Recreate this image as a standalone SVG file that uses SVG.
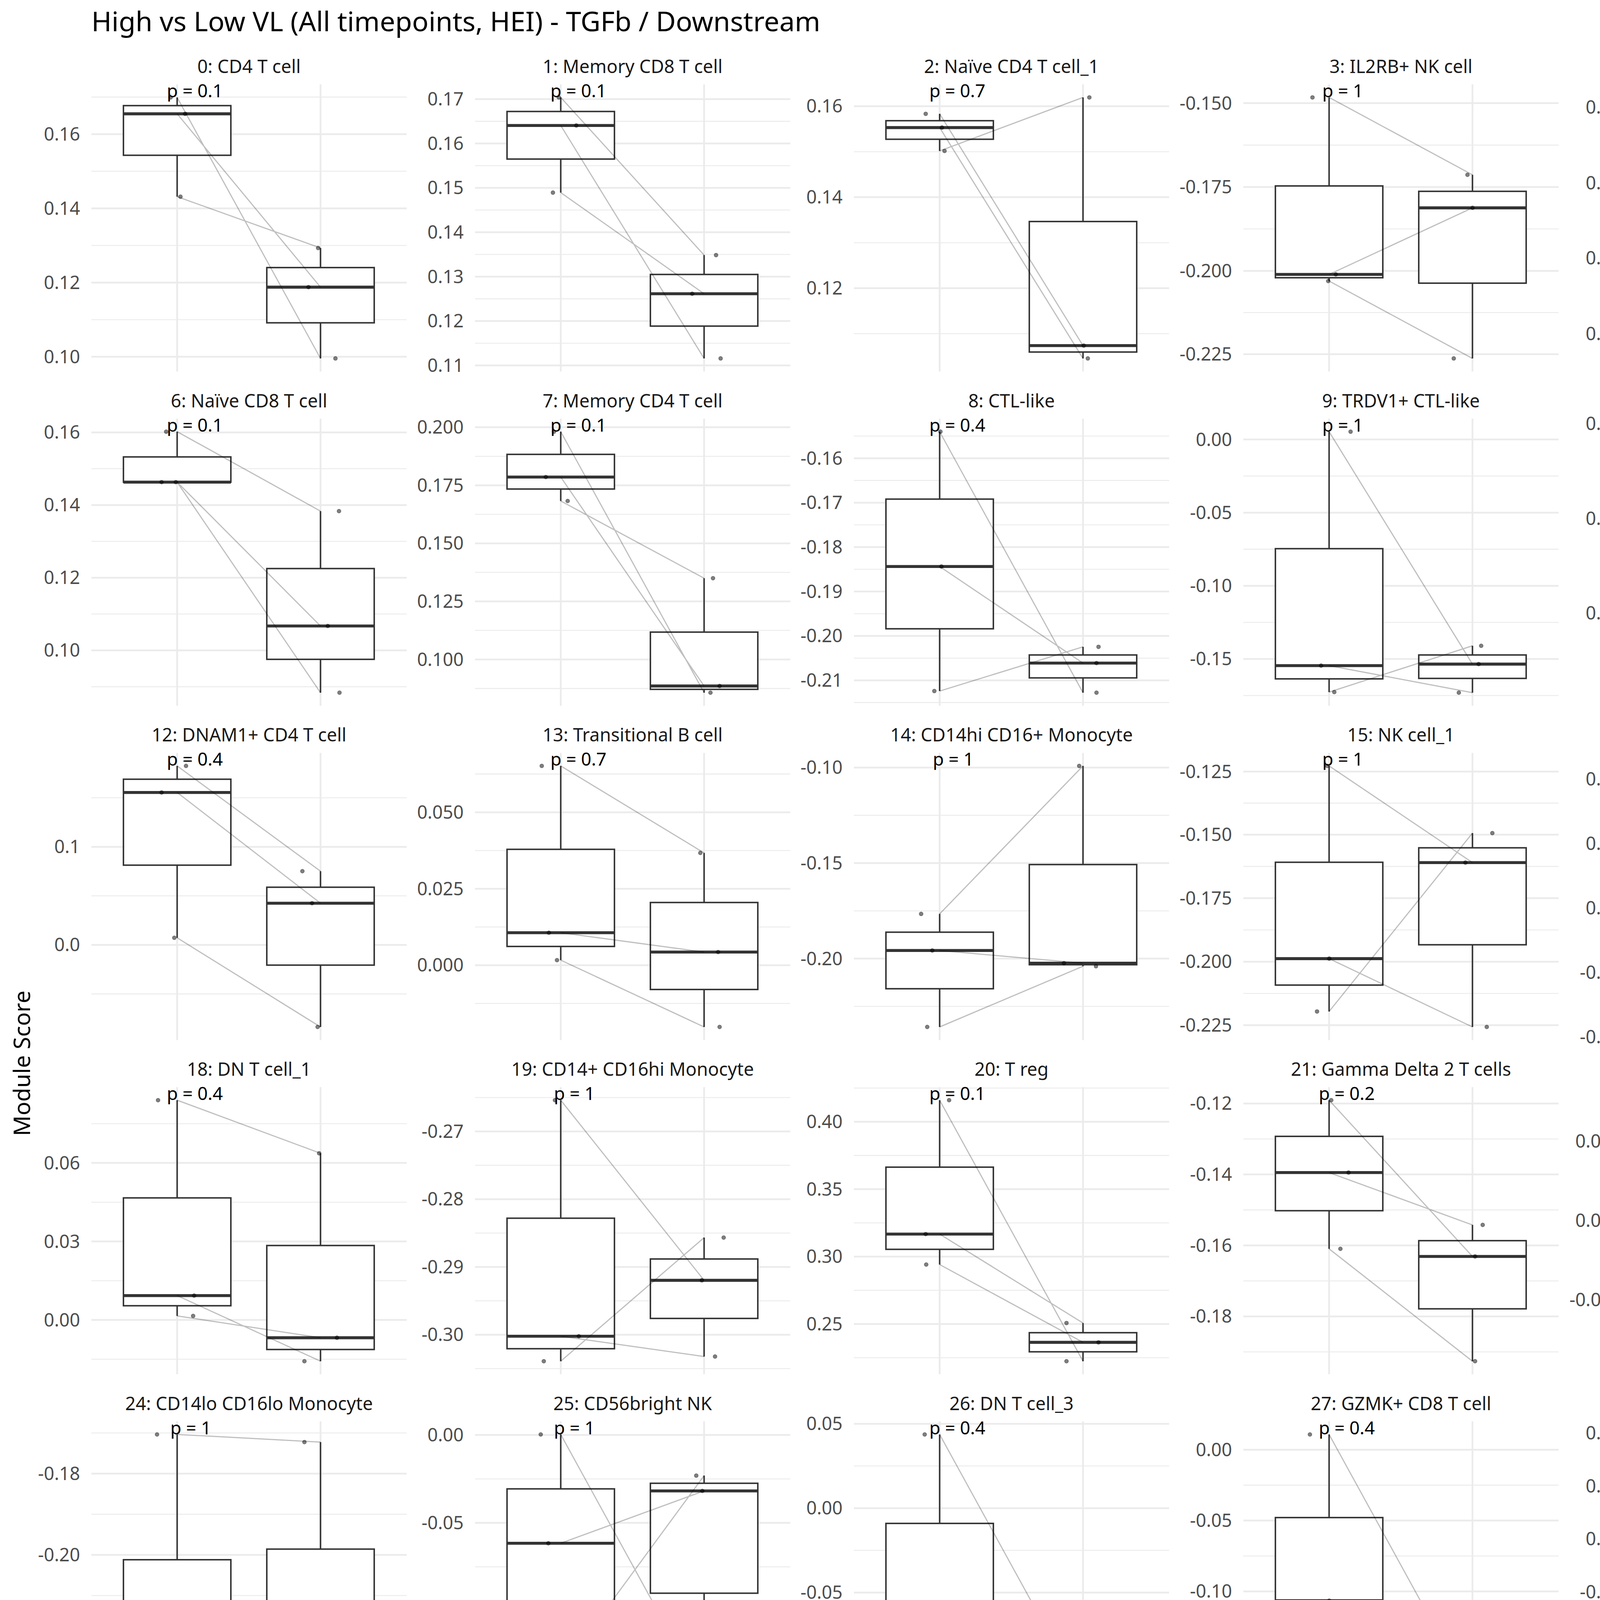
<svg xmlns="http://www.w3.org/2000/svg" width="6000" height="5400" viewBox="0 0 6000 5400">
<style>
text{font-family:"Noto Sans","Open Sans","DejaVu Sans",sans-serif}
.t{font-size:70px;fill:#000}
.st{font-size:46.7px;fill:#1A1A1A;text-anchor:middle}
.yt{font-size:46.7px;fill:#4D4D4D;text-anchor:end}
.xt{font-size:46.7px;fill:#4D4D4D;text-anchor:middle}
.pv{font-size:46px;fill:#000}
.ax{font-size:58px;fill:#000;text-anchor:middle}
.gM{stroke:#EBEBEB;stroke-width:4.5;fill:none}
.gm{stroke:#EBEBEB;stroke-width:2.3;fill:none}
.bx{fill:#fff;stroke:#333;stroke-width:3.8}
.wk{stroke:#333;stroke-width:3.8;fill:none}
.md{stroke:#333;stroke-width:7.6;fill:none}
.ln{stroke:#000;stroke-opacity:.25;stroke-width:3;fill:none}
.pts circle{fill:#000;fill-opacity:.5;stroke:#000;stroke-opacity:.35;stroke-width:1.5}
</style>
<defs>
<path id="vg" d="M219.5 0V735M586.5 0V735"/>
</defs>
<rect width="6000" height="5400" fill="#fff"/>
<text class="t" x="234" y="80">High vs Low VL (All timepoints, HEI) - TGFb / Downstream</text>
<text class="ax" transform="translate(77,2722) rotate(-90)">Module Score</text>

<g id="panel-0" transform="translate(234,216)">
<path class="gm" d="M0 32.5H807M0 222.4H807M0 412.4H807M0 602.4H807"/>
<path class="gM" d="M0 127.5H807M0 317.4H807M0 507.4H807M0 697.3H807"/>
<use href="#vg" class="gM"/>
<text class="yt" x="-29" y="144">0.16</text><text class="yt" x="-29" y="333.9">0.14</text><text class="yt" x="-29" y="523.9">0.12</text><text class="yt" x="-29" y="713.8">0.10</text>
<text class="st" x="403.5" y="-29">0: CD4 T cell</text>
<path class="wk" d="M219.5 33.4V54.4M219.5 181.5V287.5M586.5 418.9V469M586.5 610.4V701.6"/>
<rect class="bx" x="82" y="54.4" width="275" height="127.1"/><rect class="bx" x="449" y="469" width="275" height="141.4"/>
<path class="md" d="M82 75.4H357M449 519.1H724"/>
<g class="connectors"><path class="ln" d="M219.5 33.4L586.5 701.6M219.5 75.4L586.5 519.1M219.5 287.5L586.5 418.9"/></g>
<g class="pts"><circle cx="202.8" cy="33.4" r="5"/><circle cx="240" cy="75.4" r="5"/><circle cx="228" cy="287.5" r="5"/><circle cx="580.4" cy="418.9" r="5"/><circle cx="555.7" cy="519.1" r="5"/><circle cx="624.7" cy="701.6" r="5"/></g>
<text class="pv" x="193" y="33">p = 0.1</text>
</g>

<g id="panel-1" transform="translate(1216,216)">
<path class="gm" d="M0 94.5H807M0 208.1H807M0 321.7H807M0 435.4H807M0 549H807M0 662.6H807"/>
<path class="gM" d="M0 37.7H807M0 151.3H807M0 264.9H807M0 378.5H807M0 492.2H807M0 605.8H807M0 719.4H807"/>
<use href="#vg" class="gM"/>
<text class="yt" x="-29" y="54.2">0.17</text><text class="yt" x="-29" y="167.8">0.16</text><text class="yt" x="-29" y="281.4">0.15</text><text class="yt" x="-29" y="395">0.14</text><text class="yt" x="-29" y="508.7">0.13</text><text class="yt" x="-29" y="622.3">0.12</text><text class="yt" x="-29" y="735.9">0.11</text>
<text class="st" x="403.5" y="-29">1: Memory CD8 T cell</text>
<path class="wk" d="M219.5 33.4V69.4M219.5 191.2V277.1M586.5 437.1V486.6M586.5 618.8V701.6"/>
<rect class="bx" x="82" y="69.4" width="275" height="121.8"/><rect class="bx" x="449" y="486.6" width="275" height="132.2"/>
<path class="md" d="M82 105.3H357M449 536H724"/>
<g class="connectors"><path class="ln" d="M219.5 33.4L586.5 437.1M219.5 105.3L586.5 701.6M219.5 277.1L586.5 536"/></g>
<g class="pts"><circle cx="214.5" cy="33.4" r="5"/><circle cx="259.3" cy="105.3" r="5"/><circle cx="199.5" cy="277.1" r="5"/><circle cx="617.1" cy="437.1" r="5"/><circle cx="556" cy="536" r="5"/><circle cx="628.8" cy="701.6" r="5"/></g>
<text class="pv" x="193" y="33">p = 0.1</text>
</g>

<g id="panel-2" transform="translate(2186,216)">
<path class="gm" d="M0 172.4H807M0 405.3H807M0 638.2H807"/>
<path class="gM" d="M0 55.9H807M0 288.8H807M0 521.7H807"/>
<use href="#vg" class="gM"/>
<text class="yt" x="-29" y="72.4">0.16</text><text class="yt" x="-29" y="305.3">0.14</text><text class="yt" x="-29" y="538.2">0.12</text>
<text class="st" x="403.5" y="-29">2: Naïve CD4 T cell_1</text>
<path class="wk" d="M219.5 75.4V93M219.5 140.5V170.4M586.5 33.4V351.1M586.5 685.2V701.6"/>
<rect class="bx" x="82" y="93" width="275" height="47.5"/><rect class="bx" x="449" y="351.1" width="275" height="334.1"/>
<path class="md" d="M82 110.6H357M449 668.7H724"/>
<g class="connectors"><path class="ln" d="M219.5 75.4L586.5 668.7M219.5 110.6L586.5 701.6M219.5 170.4L586.5 33.4"/></g>
<g class="pts"><circle cx="183.8" cy="75.4" r="5"/><circle cx="225.4" cy="110.6" r="5"/><circle cx="232" cy="170.4" r="5"/><circle cx="602.7" cy="33.4" r="5"/><circle cx="588.4" cy="668.7" r="5"/><circle cx="598.8" cy="701.6" r="5"/></g>
<text class="pv" x="193" y="33">p = 0.7</text>
</g>

<g id="panel-3" transform="translate(3183,216)">
<path class="gm" d="M0 155.5H807M0 370.1H807M0 584.1H807"/>
<path class="gM" d="M0 48.1H807M0 262.8H807M0 477.4H807M0 690.8H807"/>
<use href="#vg" class="gM"/>
<text class="yt" x="-29" y="64.6">-0.150</text><text class="yt" x="-29" y="279.3">-0.175</text><text class="yt" x="-29" y="493.9">-0.200</text><text class="yt" x="-29" y="707.3">-0.225</text>
<text class="st" x="403.5" y="-29">3: IL2RB+ NK cell</text>
<path class="wk" d="M219.5 33.4V260M219.5 495V503.5M586.5 231.5V273.8M586.5 508.9V701.6"/>
<rect class="bx" x="82" y="260" width="275" height="235"/><rect class="bx" x="449" y="273.8" width="275" height="235.1"/>
<path class="md" d="M82 486.5H357M449 316.1H724"/>
<g class="connectors"><path class="ln" d="M219.5 33.4L586.5 231.5M219.5 486.5L586.5 316.1M219.5 503.5L586.5 701.6"/></g>
<g class="pts"><circle cx="176.9" cy="33.4" r="5"/><circle cx="236.7" cy="486.5" r="5"/><circle cx="217.2" cy="503.5" r="5"/><circle cx="573.7" cy="231.5" r="5"/><circle cx="586.7" cy="316.1" r="5"/><circle cx="538.6" cy="701.6" r="5"/></g>
<text class="pv" x="202" y="33">p = 1</text>
</g>

<g id="panel-4" transform="translate(4181,216)">
<path class="gm" d="M0 155.5H807M0 348.7H807M0 541.9H807M0 734H807"/>
<path class="gM" d="M0 58.5H807M0 252.4H807M0 444.9H807M0 638.8H807"/>
<use href="#vg" class="gM"/>
<text class="yt" x="-29" y="75">0.15</text><text class="yt" x="-29" y="268.9">0.10</text><text class="yt" x="-29" y="461.4">0.05</text><text class="yt" x="-29" y="655.3">0.00</text>
<text class="st" x="403.5" y="-29">4: IgD+IgM+ B cell</text>
<path class="wk" d="M219.5 33.4V167.6M219.5 415.7V529.5M586.5 225V396.8M586.5 635V701.6"/>
<rect class="bx" x="82" y="167.6" width="275" height="248.1"/><rect class="bx" x="449" y="396.8" width="275" height="238.2"/>
<path class="md" d="M82 301.8H357M449 568.5H724"/>
<g class="connectors"><path class="ln" d="M219.5 33.4L586.5 225M219.5 301.8L586.5 568.5M219.5 529.5L586.5 701.6"/></g>
<g class="pts"><circle cx="230.4" cy="33.4" r="5"/><circle cx="173.2" cy="301.8" r="5"/><circle cx="257.8" cy="529.5" r="5"/><circle cx="613" cy="225" r="5"/><circle cx="629.9" cy="568.5" r="5"/><circle cx="615.5" cy="701.6" r="5"/></g>
<text class="pv" x="193" y="33">p = 0.4</text>
</g>

<g id="panel-5" transform="translate(5163,216)">
<path class="gm" d="M0 63.7H807M0 232.9H807M0 402H807M0 571.1H807"/>
<path class="gM" d="M0 148.3H807M0 317.4H807M0 486.5H807M0 655.7H807"/>
<use href="#vg" class="gM"/>
<text class="yt" x="-29" y="164.8">0.175</text><text class="yt" x="-29" y="333.9">0.150</text><text class="yt" x="-29" y="503">0.125</text><text class="yt" x="-29" y="672.2">0.100</text>
<text class="st" x="403.5" y="-29">5: Naïve CD4 T cell_2</text>
<path class="wk" d="M219.5 268.6V326.5M586.5 33.4V204M586.5 538.2V701.6"/>
<rect class="bx" x="82" y="210.7" width="275" height="57.9"/><rect class="bx" x="449" y="204" width="275" height="334.2"/>
<path class="md" d="M82 210.7H357M449 374.7H724"/>
<g class="connectors"><path class="ln" d="M219.5 210.7L586.5 33.4M219.5 210.7L586.5 701.6M219.5 326.5L586.5 374.7"/></g>
<g class="pts"><circle cx="211.2" cy="210.7" r="5"/><circle cx="259.3" cy="210.7" r="5"/><circle cx="220.3" cy="326.5" r="5"/><circle cx="537.7" cy="33.4" r="5"/><circle cx="582" cy="374.7" r="5"/><circle cx="611.9" cy="701.6" r="5"/></g>
<text class="pv" x="193" y="33">p = 0.7</text>
</g>

<g id="panel-6" transform="translate(234,1071.7)">
<path class="gm" d="M0 128.2H807M0 314.2H807M0 500.2H807M0 686.3H807"/>
<path class="gM" d="M0 35.2H807M0 221.2H807M0 407.2H807M0 593.3H807"/>
<use href="#vg" class="gM"/>
<text class="yt" x="-29" y="51.7">0.16</text><text class="yt" x="-29" y="237.7">0.14</text><text class="yt" x="-29" y="423.7">0.12</text><text class="yt" x="-29" y="609.8">0.10</text>
<text class="st" x="403.5" y="-29">6: Naïve CD8 T cell</text>
<path class="wk" d="M219.5 33.4V98M586.5 236.8V383.8M586.5 616.2V701.6"/>
<rect class="bx" x="82" y="98" width="275" height="64.6"/><rect class="bx" x="449" y="383.8" width="275" height="232.4"/>
<path class="md" d="M82 162.6H357M449 530.8H724"/>
<g class="connectors"><path class="ln" d="M219.5 33.4L586.5 236.8M219.5 162.6L586.5 530.8M219.5 162.6L586.5 701.6"/></g>
<g class="pts"><circle cx="191.4" cy="33.4" r="5"/><circle cx="179.7" cy="162.6" r="5"/><circle cx="216.1" cy="162.6" r="5"/><circle cx="633.8" cy="236.8" r="5"/><circle cx="605.1" cy="530.8" r="5"/><circle cx="635.1" cy="701.6" r="5"/></g>
<text class="pv" x="193" y="33">p = 0.1</text>
</g>

<g id="panel-7" transform="translate(1216,1071.7)">
<path class="gm" d="M0 96.4H807M0 245H807M0 393.6H807M0 542.2H807M0 690.8H807"/>
<path class="gM" d="M0 22.1H807M0 170.7H807M0 319.3H807M0 467.9H807M0 616.5H807"/>
<use href="#vg" class="gM"/>
<text class="yt" x="-29" y="38.6">0.200</text><text class="yt" x="-29" y="187.2">0.175</text><text class="yt" x="-29" y="335.8">0.150</text><text class="yt" x="-29" y="484.4">0.125</text><text class="yt" x="-29" y="633">0.100</text>
<text class="st" x="403.5" y="-29">7: Memory CD4 T cell</text>
<path class="wk" d="M219.5 33.4V91.5M219.5 180.2V210.8M586.5 408.5V546.5M586.5 693V701.6"/>
<rect class="bx" x="82" y="91.5" width="275" height="88.7"/><rect class="bx" x="449" y="546.5" width="275" height="146.5"/>
<path class="md" d="M82 149.6H357M449 684.4H724"/>
<g class="connectors"><path class="ln" d="M219.5 33.4L586.5 701.6M219.5 149.6L586.5 684.4M219.5 210.8L586.5 408.5"/></g>
<g class="pts"><circle cx="202.1" cy="33.4" r="5"/><circle cx="181.3" cy="149.6" r="5"/><circle cx="237.2" cy="210.8" r="5"/><circle cx="609.3" cy="408.5" r="5"/><circle cx="626.2" cy="684.4" r="5"/><circle cx="602.8" cy="701.6" r="5"/></g>
<text class="pv" x="193" y="33">p = 0.1</text>
</g>

<g id="panel-8" transform="translate(2186,1071.7)">
<path class="gm" d="M0 44.6H807M0 158.3H807M0 272H807M0 385.7H807M0 499.4H807M0 613.1H807M0 726.8H807"/>
<path class="gM" d="M0 101.5H807M0 215.2H807M0 328.9H807M0 442.6H807M0 556.3H807M0 670H807"/>
<use href="#vg" class="gM"/>
<text class="yt" x="-29" y="118">-0.16</text><text class="yt" x="-29" y="231.7">-0.17</text><text class="yt" x="-29" y="345.4">-0.18</text><text class="yt" x="-29" y="459.1">-0.19</text><text class="yt" x="-29" y="572.8">-0.20</text><text class="yt" x="-29" y="686.5">-0.21</text>
<text class="st" x="403.5" y="-29">8: CTL-like</text>
<path class="wk" d="M219.5 33.4V206M219.5 538V697.4M586.5 584.2V605M586.5 663.7V701.6"/>
<rect class="bx" x="82" y="206" width="275" height="332"/><rect class="bx" x="449" y="605" width="275" height="58.7"/>
<path class="md" d="M82 378.6H357M449 625.8H724"/>
<g class="connectors"><path class="ln" d="M219.5 33.4L586.5 701.6M219.5 378.6L586.5 625.8M219.5 697.4L586.5 584.2"/></g>
<g class="pts"><circle cx="221.5" cy="33.4" r="5"/><circle cx="224" cy="378.6" r="5"/><circle cx="205.9" cy="697.4" r="5"/><circle cx="626.2" cy="584.2" r="5"/><circle cx="621" cy="625.8" r="5"/><circle cx="621" cy="701.6" r="5"/></g>
<text class="pv" x="193" y="33">p = 0.4</text>
</g>

<g id="panel-9" transform="translate(3183,1071.7)">
<path class="gm" d="M0 147H807M0 334.3H807M0 521.7H807M0 709H807"/>
<path class="gM" d="M0 53.4H807M0 240.7H807M0 428H807M0 615.3H807"/>
<use href="#vg" class="gM"/>
<text class="yt" x="-29" y="69.9">0.00</text><text class="yt" x="-29" y="257.2">-0.05</text><text class="yt" x="-29" y="444.5">-0.10</text><text class="yt" x="-29" y="631.8">-0.15</text>
<text class="st" x="403.5" y="-29">9: TRDV1+ CTL-like</text>
<path class="wk" d="M219.5 33.4V332.9M219.5 666.2V700M586.5 581.6V605M586.5 665V701.6"/>
<rect class="bx" x="82" y="332.9" width="275" height="333.3"/><rect class="bx" x="449" y="605" width="275" height="60"/>
<path class="md" d="M82 632.3H357M449 628.4H724"/>
<g class="connectors"><path class="ln" d="M219.5 33.4L586.5 628.4M219.5 632.3L586.5 701.6M219.5 700L586.5 581.6"/></g>
<g class="pts"><circle cx="274.5" cy="33.4" r="5"/><circle cx="199" cy="632.3" r="5"/><circle cx="232.8" cy="700" r="5"/><circle cx="608.8" cy="581.6" r="5"/><circle cx="602.3" cy="628.4" r="5"/><circle cx="551.6" cy="701.6" r="5"/></g>
<text class="pv" x="202" y="33">p = 1</text>
</g>

<g id="panel-10" transform="translate(4181,1071.7)">
<path class="gm" d="M0 134.3H807M0 376.9H807M0 619.5H807"/>
<path class="gM" d="M0 13H807M0 255.6H807M0 498.2H807"/>
<use href="#vg" class="gM"/>
<text class="yt" x="-29" y="29.5">0.10</text><text class="yt" x="-29" y="272.1">0.05</text><text class="yt" x="-29" y="514.7">0.00</text>
<text class="st" x="403.5" y="-29">10: Memory CD4 T helper</text>
<path class="wk" d="M219.5 33.4V100.6M219.5 434.8V701.6"/>
<rect class="bx" x="82" y="100.6" width="275" height="334.2"/><rect class="bx" x="449" y="670.5" width="275" height="1"/>
<path class="md" d="M82 167.9H357M449 671H724"/>
<g class="connectors"><path class="ln" d="M219.5 33.4L586.5 671M219.5 167.9L586.5 670M219.5 701.6L586.5 672"/></g>
<g class="pts"><circle cx="181" cy="33.4" r="5"/><circle cx="269.5" cy="167.9" r="5"/><circle cx="213.5" cy="701.6" r="5"/><circle cx="545.3" cy="672" r="5"/><circle cx="575.2" cy="671" r="5"/><circle cx="629.9" cy="670" r="5"/></g>
<text class="pv" x="193" y="33">p = 0.7</text>
</g>

<g id="panel-11" transform="translate(5163,1071.7)">
<path class="gm" d="M0 100.6H807M0 288.8H807M0 477H807M0 665.2H807"/>
<path class="gM" d="M0 6.5H807M0 194.7H807M0 382.9H807M0 571.1H807"/>
<use href="#vg" class="gM"/>
<text class="yt" x="-29" y="23">0.18</text><text class="yt" x="-29" y="211.2">0.15</text><text class="yt" x="-29" y="399.4">0.12</text><text class="yt" x="-29" y="587.6">0.09</text>
<text class="st" x="403.5" y="-29">11: Naïve B cell</text>
<path class="wk" d="M219.5 33.4V92.2M219.5 268.7V386.4M586.5 329.2V485.3M586.5 671.5V701.6"/>
<rect class="bx" x="82" y="92.2" width="275" height="176.5"/><rect class="bx" x="449" y="485.3" width="275" height="186.2"/>
<path class="md" d="M82 150.9H357M449 641.4H724"/>
<g class="connectors"><path class="ln" d="M219.5 33.4L586.5 329.2M219.5 150.9L586.5 701.6M219.5 386.4L586.5 641.4"/></g>
<g class="pts"><circle cx="242.4" cy="33.4" r="5"/><circle cx="259.3" cy="150.9" r="5"/><circle cx="254.1" cy="386.4" r="5"/><circle cx="556" cy="329.2" r="5"/><circle cx="557.3" cy="641.4" r="5"/><circle cx="626.2" cy="701.6" r="5"/></g>
<text class="pv" x="193" y="33">p = 0.2</text>
</g>

<g id="panel-12" transform="translate(234,1927.4)">
<path class="gm" d="M0 114.9H807M0 366H807M0 617.1H807"/>
<path class="gM" d="M0 240.5H807M0 491.6H807"/>
<use href="#vg" class="gM"/>
<text class="yt" x="-29" y="257">0.1</text><text class="yt" x="-29" y="508.1">0.0</text>
<text class="st" x="403.5" y="-29">12: DNAM1+ CD4 T cell</text>
<path class="wk" d="M219.5 33.4V67.4M219.5 287.4V473.4M586.5 302.9V343.9M586.5 543.3V701.6"/>
<rect class="bx" x="82" y="67.4" width="275" height="220"/><rect class="bx" x="449" y="343.9" width="275" height="199.4"/>
<path class="md" d="M82 101.3H357M449 384.9H724"/>
<g class="connectors"><path class="ln" d="M219.5 33.4L586.5 302.9M219.5 101.3L586.5 384.9M219.5 473.4L586.5 701.6"/></g>
<g class="pts"><circle cx="242.2" cy="33.4" r="5"/><circle cx="179.7" cy="101.3" r="5"/><circle cx="212.2" cy="473.4" r="5"/><circle cx="540.1" cy="302.9" r="5"/><circle cx="564.8" cy="384.9" r="5"/><circle cx="579.1" cy="701.6" r="5"/></g>
<text class="pv" x="193" y="33">p = 0.4</text>
</g>

<g id="panel-13" transform="translate(1216,1927.4)">
<path class="gm" d="M0 54.1H807M0 249.9H807M0 445.7H807M0 641.5H807"/>
<path class="gM" d="M0 152H807M0 347.8H807M0 543.6H807"/>
<use href="#vg" class="gM"/>
<text class="yt" x="-29" y="168.5">0.050</text><text class="yt" x="-29" y="364.3">0.025</text><text class="yt" x="-29" y="560.1">0.000</text>
<text class="st" x="403.5" y="-29">13: Transitional B cell</text>
<path class="wk" d="M219.5 33.4V246.9M219.5 495.5V530.6M586.5 256.1V383M586.5 605.7V701.6"/>
<rect class="bx" x="82" y="246.9" width="275" height="248.6"/><rect class="bx" x="449" y="383" width="275" height="222.7"/>
<path class="md" d="M82 460.3H357M449 509.8H724"/>
<g class="connectors"><path class="ln" d="M219.5 33.4L586.5 256.1M219.5 460.3L586.5 509.8M219.5 530.6L586.5 701.6"/></g>
<g class="pts"><circle cx="170.9" cy="33.4" r="5"/><circle cx="189.1" cy="460.3" r="5"/><circle cx="209.9" cy="530.6" r="5"/><circle cx="576.8" cy="256.1" r="5"/><circle cx="622.3" cy="509.8" r="5"/><circle cx="626.2" cy="701.6" r="5"/></g>
<text class="pv" x="193" y="33">p = 0.7</text>
</g>

<g id="panel-14" transform="translate(2186,1927.4)">
<path class="gm" d="M0 159.8H807M0 404.4H807M0 649H807"/>
<path class="gM" d="M0 37.5H807M0 282.1H807M0 526.7H807"/>
<use href="#vg" class="gM"/>
<text class="yt" x="-29" y="54">-0.10</text><text class="yt" x="-29" y="298.6">-0.15</text><text class="yt" x="-29" y="543.2">-0.20</text>
<text class="st" x="403.5" y="-29">14: CD14hi CD16+ Monocyte</text>
<path class="wk" d="M219.5 412.2V459M219.5 603.8V701.6M586.5 33.4V285.9M586.5 542.3V546.2"/>
<rect class="bx" x="82" y="459" width="275" height="144.8"/><rect class="bx" x="449" y="285.9" width="275" height="256.4"/>
<path class="md" d="M82 505.9H357M449 538.4H724"/>
<g class="connectors"><path class="ln" d="M219.5 412.2L586.5 33.4M219.5 505.9L586.5 538.4M219.5 701.6L586.5 546.2"/></g>
<g class="pts"><circle cx="172.1" cy="412.2" r="5"/><circle cx="200.7" cy="505.9" r="5"/><circle cx="187.7" cy="701.6" r="5"/><circle cx="576.7" cy="33.4" r="5"/><circle cx="537.7" cy="538.4" r="5"/><circle cx="619.7" cy="546.2" r="5"/></g>
<text class="pv" x="202" y="33">p = 1</text>
</g>

<g id="panel-15" transform="translate(3183,1927.4)">
<path class="gm" d="M0 128.6H807M0 290.6H807M0 453.2H807M0 615.8H807"/>
<path class="gM" d="M0 47.9H807M0 209.3H807M0 371.9H807M0 534.5H807M0 697.1H807"/>
<use href="#vg" class="gM"/>
<text class="yt" x="-29" y="64.4">-0.125</text><text class="yt" x="-29" y="225.8">-0.150</text><text class="yt" x="-29" y="388.4">-0.175</text><text class="yt" x="-29" y="551">-0.200</text><text class="yt" x="-29" y="713.6">-0.225</text>
<text class="st" x="403.5" y="-29">15: NK cell_1</text>
<path class="wk" d="M219.5 33.4V280M219.5 594.4V662M586.5 205.3V243M586.5 491.2V701.6"/>
<rect class="bx" x="82" y="280" width="275" height="314.4"/><rect class="bx" x="449" y="243" width="275" height="248.2"/>
<path class="md" d="M82 526.7H357M449 280.8H724"/>
<g class="connectors"><path class="ln" d="M219.5 33.4L586.5 280.8M219.5 526.7L586.5 701.6M219.5 662L586.5 205.3"/></g>
<g class="pts"><circle cx="214.6" cy="33.4" r="5"/><circle cx="219.8" cy="526.7" r="5"/><circle cx="188.6" cy="662" r="5"/><circle cx="637.4" cy="205.3" r="5"/><circle cx="568.5" cy="280.8" r="5"/><circle cx="623.1" cy="701.6" r="5"/></g>
<text class="pv" x="202" y="33">p = 1</text>
</g>

<g id="panel-16" transform="translate(4181,1927.4)">
<path class="gm" d="M0 149.9H807M0 314.8H807M0 479.7H807M0 644.6H807"/>
<path class="gM" d="M0 67.4H807M0 232.3H807M0 397.2H807M0 562.1H807M0 727H807"/>
<use href="#vg" class="gM"/>
<text class="yt" x="-29" y="83.9">0.06</text><text class="yt" x="-29" y="248.8">0.03</text><text class="yt" x="-29" y="413.7">0.00</text><text class="yt" x="-29" y="578.6">-0.03</text><text class="yt" x="-29" y="743.5">-0.06</text>
<text class="st" x="403.5" y="-29">16: Gamma Delta 1 T cells</text>
<path class="wk" d="M219.5 33.4V101.2M219.5 290.6V412.2M586.5 53.1V313.3M586.5 637.6V701.6"/>
<rect class="bx" x="82" y="101.2" width="275" height="189.4"/><rect class="bx" x="449" y="313.3" width="275" height="324.3"/>
<path class="md" d="M82 168.9H357M449 573.5H724"/>
<g class="connectors"><path class="ln" d="M219.5 33.4L586.5 53.1M219.5 168.9L586.5 701.6M219.5 412.2L586.5 573.5"/></g>
<g class="pts"><circle cx="204.4" cy="33.4" r="5"/><circle cx="240.9" cy="168.9" r="5"/><circle cx="213.5" cy="412.2" r="5"/><circle cx="563.5" cy="53.1" r="5"/><circle cx="631.2" cy="573.5" r="5"/><circle cx="641.6" cy="701.6" r="5"/></g>
<text class="pv" x="193" y="33">p = 0.4</text>
</g>

<g id="panel-17" transform="translate(5163,1927.4)">
<path class="gm" d="M0 83H807M0 299H807M0 515H807M0 731H807"/>
<path class="gM" d="M0 191H807M0 407H807M0 623H807"/>
<use href="#vg" class="gM"/>
<text class="yt" x="-29" y="207.5">-0.18</text><text class="yt" x="-29" y="423.5">-0.20</text><text class="yt" x="-29" y="639.5">-0.22</text>
<text class="st" x="403.5" y="-29">17: NK cell_2</text>
<path class="wk" d="M219.5 538.4V553.4M219.5 577.4V586.5M586.5 33.4V135M586.5 469.1V701.6"/>
<rect class="bx" x="82" y="553.4" width="275" height="24"/><rect class="bx" x="449" y="135" width="275" height="334.1"/>
<path class="md" d="M82 568.3H357M449 236.6H724"/>
<g class="connectors"><path class="ln" d="M219.5 538.4L586.5 33.4M219.5 568.3L586.5 236.6M219.5 586.5L586.5 701.6"/></g>
<g class="pts"><circle cx="195.6" cy="538.4" r="5"/><circle cx="177.4" cy="568.3" r="5"/><circle cx="224.2" cy="586.5" r="5"/><circle cx="610.6" cy="33.4" r="5"/><circle cx="576.8" cy="236.6" r="5"/><circle cx="610.6" cy="701.6" r="5"/></g>
<text class="pv" x="193" y="33">p = 0.7</text>
</g>

<g id="panel-18" transform="translate(234,2783.1)">
<path class="gm" d="M0 93.5H807M0 294.5H807M0 495.5H807M0 696.5H807"/>
<path class="gM" d="M0 194H807M0 395H807M0 596H807"/>
<use href="#vg" class="gM"/>
<text class="yt" x="-29" y="210.5">0.06</text><text class="yt" x="-29" y="411.5">0.03</text><text class="yt" x="-29" y="612.5">0.00</text>
<text class="st" x="403.5" y="-29">18: DN T cell_1</text>
<path class="wk" d="M219.5 33.4V283.5M219.5 559.6V585.6M586.5 169.3V405.4M586.5 671.6V701.6"/>
<rect class="bx" x="82" y="283.5" width="275" height="276.1"/><rect class="bx" x="449" y="405.4" width="275" height="266.2"/>
<path class="md" d="M82 533.6H357M449 641.5H724"/>
<g class="connectors"><path class="ln" d="M219.5 33.4L586.5 169.3M219.5 533.6L586.5 701.6M219.5 585.6L586.5 641.5"/></g>
<g class="pts"><circle cx="170.6" cy="33.4" r="5"/><circle cx="263" cy="533.6" r="5"/><circle cx="260.4" cy="585.6" r="5"/><circle cx="583" cy="169.3" r="5"/><circle cx="628.6" cy="641.5" r="5"/><circle cx="545.3" cy="701.6" r="5"/></g>
<text class="pv" x="193" y="33">p = 0.4</text>
</g>

<g id="panel-19" transform="translate(1216,2783.1)">
<path class="gm" d="M0 26.6H807M0 200H807M0 373.5H807M0 547H807M0 720.5H807"/>
<path class="gM" d="M0 113.3H807M0 286.8H807M0 460.3H807M0 633.8H807"/>
<use href="#vg" class="gM"/>
<text class="yt" x="-29" y="129.8">-0.27</text><text class="yt" x="-29" y="303.3">-0.28</text><text class="yt" x="-29" y="476.8">-0.29</text><text class="yt" x="-29" y="650.3">-0.30</text>
<text class="st" x="403.5" y="-29">19: CD14+ CD16hi Monocyte</text>
<path class="wk" d="M219.5 33.4V335.5M219.5 669.6V701.6M586.5 385.2V439.9M586.5 592.1V689.7"/>
<rect class="bx" x="82" y="335.5" width="275" height="334.1"/><rect class="bx" x="449" y="439.9" width="275" height="152.2"/>
<path class="md" d="M82 637.6H357M449 494.5H724"/>
<g class="connectors"><path class="ln" d="M219.5 33.4L586.5 494.5M219.5 637.6L586.5 689.7M219.5 701.6L586.5 385.2"/></g>
<g class="pts"><circle cx="204.7" cy="33.4" r="5"/><circle cx="265.8" cy="637.6" r="5"/><circle cx="176.1" cy="701.6" r="5"/><circle cx="636.6" cy="385.2" r="5"/><circle cx="580.7" cy="494.5" r="5"/><circle cx="614.5" cy="689.7" r="5"/></g>
<text class="pv" x="202" y="33">p = 1</text>
</g>

<g id="panel-20" transform="translate(2186,2783.1)">
<path class="gm" d="M0 2.3H807M0 174.9H807M0 347.5H807M0 520.1H807M0 692.7H807"/>
<path class="gM" d="M0 88.6H807M0 261.2H807M0 433.8H807M0 606.4H807"/>
<use href="#vg" class="gM"/>
<text class="yt" x="-29" y="105.1">0.40</text><text class="yt" x="-29" y="277.7">0.35</text><text class="yt" x="-29" y="450.3">0.30</text><text class="yt" x="-29" y="622.9">0.25</text>
<text class="st" x="403.5" y="-29">20: T reg</text>
<path class="wk" d="M219.5 33.4V204.8M219.5 415.2V454.2M586.5 603.8V628.6M586.5 677.5V701.6"/>
<rect class="bx" x="82" y="204.8" width="275" height="210.4"/><rect class="bx" x="449" y="628.6" width="275" height="48.9"/>
<path class="md" d="M82 376.1H357M449 653.3H724"/>
<g class="connectors"><path class="ln" d="M219.5 33.4L586.5 701.6M219.5 376.1L586.5 603.8M219.5 454.2L586.5 653.3"/></g>
<g class="pts"><circle cx="243.7" cy="33.4" r="5"/><circle cx="183.8" cy="376.1" r="5"/><circle cx="185.1" cy="454.2" r="5"/><circle cx="544.2" cy="603.8" r="5"/><circle cx="626.2" cy="653.3" r="5"/><circle cx="544.2" cy="701.6" r="5"/></g>
<text class="pv" x="193" y="33">p = 0.1</text>
</g>

<g id="panel-21" transform="translate(3183,2783.1)">
<path class="gm" d="M0 132.7H807M0 314.4H807M0 496.1H807M0 677.8H807"/>
<path class="gM" d="M0 41.8H807M0 223.5H807M0 405.2H807M0 586.9H807"/>
<use href="#vg" class="gM"/>
<text class="yt" x="-29" y="58.3">-0.12</text><text class="yt" x="-29" y="240">-0.14</text><text class="yt" x="-29" y="421.7">-0.16</text><text class="yt" x="-29" y="603.4">-0.18</text>
<text class="st" x="403.5" y="-29">21: Gamma Delta 2 T cells</text>
<path class="wk" d="M219.5 33.4V126M219.5 316.3V413.9M586.5 352.7V393M586.5 567.5V701.6"/>
<rect class="bx" x="82" y="126" width="275" height="190.3"/><rect class="bx" x="449" y="393" width="275" height="174.5"/>
<path class="md" d="M82 218.7H357M449 433.4H724"/>
<g class="connectors"><path class="ln" d="M219.5 33.4L586.5 433.4M219.5 218.7L586.5 352.7M219.5 413.9L586.5 701.6"/></g>
<g class="pts"><circle cx="225" cy="33.4" r="5"/><circle cx="269.2" cy="218.7" r="5"/><circle cx="248.4" cy="413.9" r="5"/><circle cx="612.7" cy="352.7" r="5"/><circle cx="593.2" cy="433.4" r="5"/><circle cx="593.2" cy="701.6" r="5"/></g>
<text class="pv" x="193" y="33">p = 0.2</text>
</g>

<g id="panel-22" transform="translate(4181,2783.1)">
<path class="gm" d="M0 36.6H807M0 239.5H807M0 442.5H807M0 645.5H807"/>
<path class="gM" d="M0 138.1H807M0 341H807M0 544H807"/>
<use href="#vg" class="gM"/>
<text class="yt" x="-29" y="154.6">0.025</text><text class="yt" x="-29" y="357.5">0.000</text><text class="yt" x="-29" y="560.5">-0.025</text>
<text class="st" x="403.5" y="-29">22: CD69+ B cell</text>
<path class="wk" d="M219.5 33.4V137.8M219.5 455.5V668.9M586.5 428.2V512.1M586.5 648.8V701.6"/>
<rect class="bx" x="82" y="137.8" width="275" height="317.7"/><rect class="bx" x="449" y="512.1" width="275" height="136.7"/>
<path class="md" d="M82 242.1H357M449 596H724"/>
<g class="connectors"><path class="ln" d="M219.5 33.4L586.5 428.2M219.5 242.1L586.5 596M219.5 668.9L586.5 701.6"/></g>
<g class="pts"><circle cx="233" cy="33.4" r="5"/><circle cx="240.9" cy="242.1" r="5"/><circle cx="218.7" cy="668.9" r="5"/><circle cx="542.7" cy="428.2" r="5"/><circle cx="572.6" cy="596" r="5"/><circle cx="544" cy="701.6" r="5"/></g>
<text class="pv" x="193" y="33">p = 0.4</text>
</g>

<g id="panel-23" transform="translate(5163,2783.1)">
<path class="gm" d="M0 70.4H807M0 354H807M0 637.6H807"/>
<path class="gM" d="M0 212.2H807M0 495.8H807"/>
<use href="#vg" class="gM"/>
<text class="yt" x="-29" y="228.7">0.1</text><text class="yt" x="-29" y="512.3">0.0</text>
<text class="st" x="403.5" y="-29">23: DN T cell_2</text>
<path class="wk" d="M219.5 43.1V97.8M219.5 277.3V402.2M586.5 33.4V198.9M586.5 533V701.6"/>
<rect class="bx" x="82" y="97.8" width="275" height="179.5"/><rect class="bx" x="449" y="198.9" width="275" height="334.1"/>
<path class="md" d="M82 152.4H357M449 364.4H724"/>
<g class="connectors"><path class="ln" d="M219.5 43.1L586.5 364.4M219.5 152.4L586.5 33.4M219.5 402.2L586.5 701.6"/></g>
<g class="pts"><circle cx="167" cy="43.1" r="5"/><circle cx="209.9" cy="152.4" r="5"/><circle cx="263.2" cy="402.2" r="5"/><circle cx="627.5" cy="33.4" r="5"/><circle cx="545.5" cy="364.4" r="5"/><circle cx="582" cy="701.6" r="5"/></g>
<text class="pv" x="202" y="33">p = 1</text>
</g>

<g id="panel-24" transform="translate(234,3638.8)">
<path class="gm" d="M0 29.5H807M0 237.7H807M0 445.9H807M0 654H807"/>
<path class="gM" d="M0 133.6H807M0 341.8H807M0 549.9H807"/>
<use href="#vg" class="gM"/>
<text class="yt" x="-29" y="150.1">-0.18</text><text class="yt" x="-29" y="358.3">-0.20</text><text class="yt" x="-29" y="566.4">-0.22</text>
<text class="st" x="403.5" y="-29">24: CD14lo CD16lo Monocyte</text>
<path class="wk" d="M219.5 33.4V354.1M219.5 680V685.2M586.5 53V326.9M586.5 651.2V701.6"/>
<rect class="bx" x="82" y="354.1" width="275" height="325.9"/><rect class="bx" x="449" y="326.9" width="275" height="324.3"/>
<path class="md" d="M82 674.8H357M449 600.7H724"/>
<g class="connectors"><path class="ln" d="M219.5 33.4L586.5 53M219.5 674.8L586.5 600.7M219.5 685.2L586.5 701.6"/></g>
<g class="pts"><circle cx="168" cy="33.4" r="5"/><circle cx="197.9" cy="674.8" r="5"/><circle cx="203.1" cy="685.2" r="5"/><circle cx="545.3" cy="53" r="5"/><circle cx="626" cy="600.7" r="5"/><circle cx="544" cy="701.6" r="5"/></g>
<text class="pv" x="202" y="33">p = 1</text>
</g>

<g id="panel-25" transform="translate(1216,3638.8)">
<path class="gm" d="M0 147.3H807M0 372.4H807M0 597.5H807"/>
<path class="gM" d="M0 34.7H807M0 259.8H807M0 484.9H807M0 710H807"/>
<use href="#vg" class="gM"/>
<text class="yt" x="-29" y="51.2">0.00</text><text class="yt" x="-29" y="276.3">-0.05</text><text class="yt" x="-29" y="501.4">-0.10</text><text class="yt" x="-29" y="726.5">-0.15</text>
<text class="st" x="403.5" y="-29">25: CD56bright NK</text>
<path class="wk" d="M219.5 33.4V172.7M219.5 475.2V638.4M586.5 138.8V158.4M586.5 439.8V701.6"/>
<rect class="bx" x="82" y="172.7" width="275" height="302.5"/><rect class="bx" x="449" y="158.4" width="275" height="281.4"/>
<path class="md" d="M82 311.9H357M449 177.9H724"/>
<g class="connectors"><path class="ln" d="M219.5 33.4L586.5 701.6M219.5 311.9L586.5 177.9M219.5 638.4L586.5 138.8"/></g>
<g class="pts"><circle cx="168.3" cy="33.4" r="5"/><circle cx="187.8" cy="311.9" r="5"/><circle cx="190.4" cy="638.4" r="5"/><circle cx="566.4" cy="138.8" r="5"/><circle cx="582" cy="177.9" r="5"/><circle cx="598.9" cy="701.6" r="5"/></g>
<text class="pv" x="202" y="33">p = 1</text>
</g>

<g id="panel-26" transform="translate(2186,3638.8)">
<path class="gm" d="M0 114.1H807M0 330.1H807M0 546.1H807"/>
<path class="gM" d="M0 6.1H807M0 222.1H807M0 438.1H807M0 654H807"/>
<use href="#vg" class="gM"/>
<text class="yt" x="-29" y="22.6">0.05</text><text class="yt" x="-29" y="238.6">0.00</text><text class="yt" x="-29" y="454.6">-0.05</text><text class="yt" x="-29" y="670.5">-0.10</text>
<text class="st" x="403.5" y="-29">26: DN T cell_3</text>
<path class="wk" d="M219.5 33.4V261.1M219.5 586.4V683.9M586.5 505.7V551.3M586.5 649.2V701.6"/>
<rect class="bx" x="82" y="261.1" width="275" height="325.3"/><rect class="bx" x="449" y="551.3" width="275" height="97.9"/>
<path class="md" d="M82 488.8H357M449 596.8H724"/>
<g class="connectors"><path class="ln" d="M219.5 33.4L586.5 701.6M219.5 488.8L586.5 505.7M219.5 683.9L586.5 596.8"/></g>
<g class="pts"><circle cx="181.2" cy="33.4" r="5"/><circle cx="235.9" cy="488.8" r="5"/><circle cx="224.1" cy="683.9" r="5"/><circle cx="553.3" cy="505.7" r="5"/><circle cx="600.1" cy="596.8" r="5"/><circle cx="580.6" cy="701.6" r="5"/></g>
<text class="pv" x="193" y="33">p = 0.4</text>
</g>

<g id="panel-27" transform="translate(3183,3638.8)">
<path class="gm" d="M0 163.2H807M0 344.5H807M0 525.8H807M0 707H807"/>
<path class="gM" d="M0 72.5H807M0 253.8H807M0 435.1H807M0 616.4H807"/>
<use href="#vg" class="gM"/>
<text class="yt" x="-29" y="89">0.00</text><text class="yt" x="-29" y="270.3">-0.05</text><text class="yt" x="-29" y="451.6">-0.10</text><text class="yt" x="-29" y="632.9">-0.15</text>
<text class="st" x="403.5" y="-29">27: GZMK+ CD8 T cell</text>
<path class="wk" d="M219.5 33.4V246.2M219.5 527.9V596.8M586.5 488.8V528.5M586.5 634.9V701.6"/>
<rect class="bx" x="82" y="246.2" width="275" height="281.7"/><rect class="bx" x="449" y="528.5" width="275" height="106.4"/>
<path class="md" d="M82 458.9H357M449 568.2H724"/>
<g class="connectors"><path class="ln" d="M219.5 33.4L586.5 701.6M219.5 458.9L586.5 488.8M219.5 596.8L586.5 568.2"/></g>
<g class="pts"><circle cx="170.4" cy="33.4" r="5"/><circle cx="219.8" cy="458.9" r="5"/><circle cx="240.6" cy="596.8" r="5"/><circle cx="619.2" cy="488.8" r="5"/><circle cx="616.6" cy="568.2" r="5"/><circle cx="580.2" cy="701.6" r="5"/></g>
<text class="pv" x="193" y="33">p = 0.4</text>
</g>

<g id="panel-28" transform="translate(4181,3638.8)">
<path class="gm" d="M0 97.4H807M0 233.2H807M0 369H807M0 504.8H807M0 640.6H807"/>
<path class="gM" d="M0 29.5H807M0 165.3H807M0 301.1H807M0 436.9H807M0 572.7H807M0 708.5H807"/>
<use href="#vg" class="gM"/>
<text class="yt" x="-29" y="46">0.10</text><text class="yt" x="-29" y="181.8">0.05</text><text class="yt" x="-29" y="317.6">0.00</text><text class="yt" x="-29" y="453.4">-0.05</text><text class="yt" x="-29" y="589.2">-0.10</text><text class="yt" x="-29" y="725">-0.15</text>
<text class="st" x="403.5" y="-29">28: DN T cell_4</text>
<path class="wk" d="M219.5 33.4V110.9M219.5 376.3V564.2M586.5 374.3V393.8M586.5 557.5V701.6"/>
<rect class="bx" x="82" y="110.9" width="275" height="265.4"/><rect class="bx" x="449" y="393.8" width="275" height="163.7"/>
<path class="md" d="M82 188.3H357M449 413.3H724"/>
<g class="connectors"><path class="ln" d="M219.5 33.4L586.5 374.3M219.5 188.3L586.5 413.3M219.5 564.2L586.5 701.6"/></g>
<g class="pts"><circle cx="263" cy="33.4" r="5"/><circle cx="274.7" cy="188.3" r="5"/><circle cx="203.1" cy="564.2" r="5"/><circle cx="555.7" cy="374.3" r="5"/><circle cx="618.1" cy="413.3" r="5"/><circle cx="559.6" cy="701.6" r="5"/></g>
<text class="pv" x="193" y="33">p = 0.4</text>
</g>

<g id="panel-29" transform="translate(5163,3638.8)">
<path class="gm" d="M0 70.5H807M0 243.6H807M0 416.6H807M0 589.6H807"/>
<path class="gM" d="M0 157H807M0 330.1H807M0 503.1H807M0 676.1H807"/>
<use href="#vg" class="gM"/>
<text class="yt" x="-29" y="173.5">0.15</text><text class="yt" x="-29" y="346.6">0.10</text><text class="yt" x="-29" y="519.6">0.05</text><text class="yt" x="-29" y="692.6">0.00</text>
<text class="st" x="403.5" y="-29">29: DN T cell_5</text>
<path class="wk" d="M219.5 33.4V171.4M219.5 328.2V347M586.5 69.9V268.3M586.5 584.2V701.6"/>
<rect class="bx" x="82" y="171.4" width="275" height="156.8"/><rect class="bx" x="449" y="268.3" width="275" height="315.9"/>
<path class="md" d="M82 309.3H357M449 466.7H724"/>
<g class="connectors"><path class="ln" d="M219.5 33.4L586.5 466.7M219.5 309.3L586.5 701.6M219.5 347L586.5 69.9"/></g>
<g class="pts"><circle cx="172.2" cy="33.4" r="5"/><circle cx="229.4" cy="309.3" r="5"/><circle cx="190.4" cy="347" r="5"/><circle cx="546.8" cy="69.9" r="5"/><circle cx="606.7" cy="466.7" r="5"/><circle cx="622.3" cy="701.6" r="5"/></g>
<text class="pv" x="193" y="33">p = 0.4</text>
</g>

<g id="panel-30" transform="translate(234,4494.5)">
<path class="gm" d="M0 69.7H807M0 196.1H807M0 322.5H807M0 448.9H807M0 575.3H807M0 701.7H807"/>
<path class="gM" d="M0 6.5H807M0 132.9H807M0 259.3H807M0 385.7H807M0 512.1H807M0 638.5H807"/>
<use href="#vg" class="gM"/>
<text class="yt" x="-29" y="23">-0.15</text><text class="yt" x="-29" y="149.4">-0.16</text><text class="yt" x="-29" y="275.8">-0.17</text><text class="yt" x="-29" y="402.2">-0.18</text><text class="yt" x="-29" y="528.6">-0.19</text><text class="yt" x="-29" y="655">-0.20</text>
<text class="st" x="403.5" y="-29">30: DN T cell_6</text>
<path class="wk" d="M219.5 403.3V413.7M219.5 461.8V499.5M586.5 33.4V145.5M586.5 479.6V701.6"/>
<rect class="bx" x="82" y="413.7" width="275" height="48.1"/><rect class="bx" x="449" y="145.5" width="275" height="334.1"/>
<path class="md" d="M82 424.1H357M449 257.6H724"/>
<g class="connectors"><path class="ln" d="M219.5 403.3L586.5 33.4M219.5 424.1L586.5 701.6M219.5 499.5L586.5 257.6"/></g>
<g class="pts"><circle cx="182.3" cy="403.3" r="5"/><circle cx="239.6" cy="424.1" r="5"/><circle cx="263" cy="499.5" r="5"/><circle cx="536.2" cy="33.4" r="5"/><circle cx="633.8" cy="257.6" r="5"/><circle cx="600" cy="701.6" r="5"/></g>
<text class="pv" x="193" y="33">p = 0.7</text>
<text class="xt" x="219.5" y="795.5">High VL</text><text class="xt" x="586.5" y="795.5">Low VL</text>
</g>

<g id="panel-31" transform="translate(1216,4494.5)">
<path class="gm" d="M0 83.9H807M0 303.8H807M0 523.7H807"/>
<path class="gM" d="M0 193.8H807M0 413.7H807M0 633.6H807"/>
<use href="#vg" class="gM"/>
<text class="yt" x="-29" y="210.3">0.09</text><text class="yt" x="-29" y="430.2">0.06</text><text class="yt" x="-29" y="650.1">0.03</text>
<text class="st" x="403.5" y="-29">31: B cell</text>
<path class="wk" d="M219.5 33.4V144.9M219.5 283V309.6M586.5 111.9V399.4M586.5 694.3V701.6"/>
<rect class="bx" x="82" y="144.9" width="275" height="138.1"/><rect class="bx" x="449" y="399.4" width="275" height="294.9"/>
<path class="md" d="M82 256.3H357M449 686.9H724"/>
<g class="connectors"><path class="ln" d="M219.5 33.4L586.5 701.6M219.5 256.3L586.5 111.9M219.5 309.6L586.5 686.9"/></g>
<g class="pts"><circle cx="245" cy="33.4" r="5"/><circle cx="199.5" cy="256.3" r="5"/><circle cx="180" cy="309.6" r="5"/><circle cx="634" cy="111.9" r="5"/><circle cx="549.5" cy="686.9" r="5"/><circle cx="536.4" cy="701.6" r="5"/></g>
<text class="pv" x="193" y="33">p = 0.4</text>
<text class="xt" x="219.5" y="795.5">High VL</text><text class="xt" x="586.5" y="795.5">Low VL</text>
</g>

<g id="panel-32" transform="translate(2186,4494.5)">
<path class="gm" d="M0 57.9H807M0 256.9H807M0 455.3H807M0 653.7H807"/>
<path class="gM" d="M0 157.4H807M0 356.4H807M0 554.2H807"/>
<use href="#vg" class="gM"/>
<text class="yt" x="-29" y="173.9">-0.12</text><text class="yt" x="-29" y="372.9">-0.16</text><text class="yt" x="-29" y="570.7">-0.20</text>
<text class="st" x="403.5" y="-29">32: Plasmablast</text>
<path class="wk" d="M219.5 33.4V282.8M219.5 545.8V559.4M586.5 104.1V205.6M586.5 504.3V701.6"/>
<rect class="bx" x="82" y="282.8" width="275" height="263"/><rect class="bx" x="449" y="205.6" width="275" height="298.7"/>
<path class="md" d="M82 532.1H357M449 307H724"/>
<g class="connectors"><path class="ln" d="M219.5 33.4L586.5 104.1M219.5 532.1L586.5 307M219.5 559.4L586.5 701.6"/></g>
<g class="pts"><circle cx="182.5" cy="33.4" r="5"/><circle cx="237.2" cy="532.1" r="5"/><circle cx="267.1" cy="559.4" r="5"/><circle cx="549.4" cy="104.1" r="5"/><circle cx="559.8" cy="307" r="5"/><circle cx="639.2" cy="701.6" r="5"/></g>
<text class="pv" x="202" y="33">p = 1</text>
<text class="xt" x="219.5" y="795.5">High VL</text><text class="xt" x="586.5" y="795.5">Low VL</text>
</g>

<g id="panel-33" transform="translate(3183,4494.5)">
<path class="gm" d="M0 41.6H807M0 301.8H807M0 562H807"/>
<path class="gM" d="M0 171.7H807M0 431.9H807M0 692.1H807"/>
<use href="#vg" class="gM"/>
<text class="yt" x="-29" y="188.2">0.0</text><text class="yt" x="-29" y="448.4">-0.1</text><text class="yt" x="-29" y="708.6">-0.2</text>
<text class="st" x="403.5" y="-29">33: pDC</text>
<path class="wk" d="M219.5 33.4V46.6M219.5 234.2V408.5M586.5 283.6V421.5M586.5 630.5V701.6"/>
<rect class="bx" x="82" y="46.6" width="275" height="187.6"/><rect class="bx" x="449" y="421.5" width="275" height="209"/>
<path class="md" d="M82 59.8H357M449 559.4H724"/>
<g class="connectors"><path class="ln" d="M219.5 33.4L586.5 701.6M219.5 59.8L586.5 283.6M219.5 408.5L586.5 559.4"/></g>
<g class="pts"><circle cx="205.5" cy="33.4" r="5"/><circle cx="252.3" cy="59.8" r="5"/><circle cx="209.4" cy="408.5" r="5"/><circle cx="604.9" cy="283.6" r="5"/><circle cx="615.3" cy="559.4" r="5"/><circle cx="534.7" cy="701.6" r="5"/></g>
<text class="pv" x="193" y="33">p = 0.2</text>
<text class="xt" x="219.5" y="795.5">High VL</text><text class="xt" x="586.5" y="795.5">Low VL</text>
</g>

<g id="panel-34" transform="translate(4181,4494.5)">
<path class="gm" d="M0 64.4H807M0 268.7H807M0 472.9H807M0 677.1H807"/>
<path class="gM" d="M0 166.5H807M0 370.8H807M0 575H807"/>
<use href="#vg" class="gM"/>
<text class="yt" x="-29" y="183">-0.05</text><text class="yt" x="-29" y="387.3">-0.10</text><text class="yt" x="-29" y="591.5">-0.15</text>
<text class="st" x="403.5" y="-29">34: APC</text>
<path class="wk" d="M219.5 186V240M219.5 497.8V701.6M586.5 33.4V152.7M586.5 433.9V595.8"/>
<rect class="bx" x="82" y="240" width="275" height="257.8"/><rect class="bx" x="449" y="152.7" width="275" height="281.2"/>
<path class="md" d="M82 294H357M449 271.9H724"/>
<g class="connectors"><path class="ln" d="M219.5 186L586.5 271.9M219.5 294L586.5 33.4M219.5 701.6L586.5 595.8"/></g>
<g class="pts"><circle cx="201.8" cy="186" r="5"/><circle cx="209.6" cy="294" r="5"/><circle cx="171.9" cy="701.6" r="5"/><circle cx="583" cy="33.4" r="5"/><circle cx="616.8" cy="271.9" r="5"/><circle cx="538.8" cy="595.8" r="5"/></g>
<text class="pv" x="193" y="33">p = 0.7</text>
<text class="xt" x="219.5" y="795.5">High VL</text><text class="xt" x="586.5" y="795.5">Low VL</text>
</g>

<g id="panel-35" transform="translate(5163,4494.5)">
<path class="gm" d="M0 15.2H807M0 211.2H807M0 407.2H807M0 603.2H807"/>
<path class="gM" d="M0 113.2H807M0 309.2H807M0 505.2H807M0 701.2H807"/>
<use href="#vg" class="gM"/>
<text class="yt" x="-29" y="129.7">-0.07</text><text class="yt" x="-29" y="325.7">-0.08</text><text class="yt" x="-29" y="521.7">-0.09</text><text class="yt" x="-29" y="717.7">-0.10</text>
<text class="st" x="403.5" y="-29">35: TNF+ B cell</text>
<path class="md" d="M82 33.4H357M449 701.6H724"/>
<g class="connectors"><path class="ln" d="M219.5 33.4L586.5 701.6"/></g>
<g class="pts"><circle cx="194.3" cy="33.4" r="5"/><circle cx="574.2" cy="701.6" r="5"/></g>
<text class="pv" x="202" y="33">p = 1</text>
<text class="xt" x="219.5" y="795.5">High VL</text><text class="xt" x="586.5" y="795.5">Low VL</text>
</g>
</svg>
